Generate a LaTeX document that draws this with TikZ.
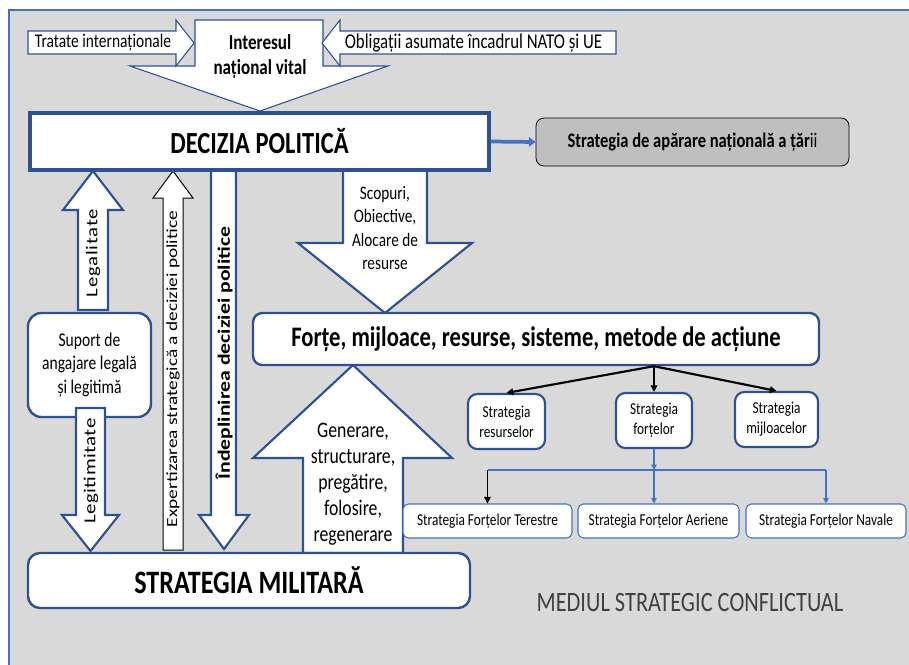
\documentclass[tikz,border=0pt]{standalone}
\usepackage{fontspec}
\usepackage{graphicx}
\setmainfont{Carlito}[FakeStretch=0.8]
\newfontfamily\vfont{Carlito}
\usetikzlibrary{arrows.meta}
\definecolor{bgg}{HTML}{D9D9D9}
\definecolor{bdr}{HTML}{2F528F}
\definecolor{bblue}{HTML}{4472C4}
\definecolor{boxg}{HTML}{BFBFBF}
\definecolor{txtg}{HTML}{404040}
\newcommand\fs[2]{\fontsize{#1pt}{#2pt}\selectfont}
\newcommand\px[1]{#1*0.75pt}
\begin{document}
\begin{tikzpicture}[x=0.75pt,y=-0.75pt,
  blockarr/.style={draw=bdr,line width=1.6pt,fill=white},
  thinarr/.style={draw=bdr,line width=0.8pt,fill=white},
  lbl/.style={inner sep=0pt,align=center},
  rbox/.style={draw=bdr,line width=1.8pt,fill=white,rounded corners=7pt,inner sep=0pt,align=center},
  sbox/.style={draw=bblue,line width=0.8pt,fill=white,rounded corners=4pt,inner sep=0pt,align=center},
  blk/.style={black,line width=1.6pt,-{Triangle[length=5pt,width=5pt]}},
  bcon/.style={bblue,line width=1.1pt},
  barr/.style={bcon,-{Triangle[length=4pt,width=4pt]}}
]
\useasboundingbox (0,0) rectangle (909,664);
\fill[bgg] (9,10) rectangle (930,690);
\draw[bblue,line width=0.8pt] (9,690) -- (9,10) -- (930,10);

% top arrows
\draw[thinarr] (195,20) -- (323,20) -- (323,66) -- (388,66) -- (260,111) -- (130,66) -- (195,66) -- cycle;
\node[lbl,font=\fs{16}{18.75}\bfseries] (inter) at (260,56) {Interesul\\național vital};
\draw[thinarr] (28,31) -- (176,31) -- (176,20) -- (194,43) -- (176,66) -- (176,54) -- (28,54) -- cycle;
\node[lbl,font=\fs{14.5}{17}] (trat) at (103,43) {Tratate internaționale};
\draw[thinarr] (616,31) -- (340,31) -- (340,20) -- (322,43) -- (340,66) -- (340,54) -- (616,54) -- cycle;
\node[lbl,font=\fs{15.8}{18}] (oblig) at (473.5,43) {Obligații asumate încadrul NATO și UE};

% arrows below DECIZIA
\draw[blockarr] (343,170) -- (427,170) -- (427,243) -- (472,243) -- (385,313) -- (298,243) -- (343,243) -- cycle;
\node[lbl,font=\fs{14.3}{17.6}] (scop) at (385,228) {Scopuri,\\Obiective,\\Alocare de\\resurse};

\draw[blockarr] (78,310) -- (78,210) -- (63,210) -- (93,171) -- (123,210) -- (108,210) -- (108,310) -- cycle;
\node[lbl,rotate=90] (tlegal) at (93,253) {\scalebox{1}[0.8]{\vfont\fs{15.5}{18}\addfontfeature{LetterSpace=4}Legalitate}};

\node[rbox,rounded corners=10pt,minimum width=\px{123},minimum height=\px{104},font=\fs{14.6}{17.6}] (sup) at (89.5,365) {Suport de\\angajare legală\\și legitimă};

\draw[blockarr] (76,408) -- (105,408) -- (105,515) -- (119,515) -- (90.5,551) -- (62,515) -- (76,515) -- cycle;
\node[lbl,rotate=90] (tlegit) at (91,471) {\scalebox{1}[0.8]{\vfont\fs{15.75}{18}\addfontfeature{LetterSpace=2}Legitimitate}};

\draw[black,line width=0.75pt,fill=white] (163,550) -- (163,198) -- (153,198) -- (173,171) -- (193,198) -- (183,198) -- (183,550) -- cycle;
\node[lbl,rotate=90] (texp) at (173,369) {\scalebox{1}[0.8]{\vfont\fs{14.5}{17}Expertizarea strategică a deciziei politice}};

\draw[blockarr] (211,170) -- (236,170) -- (236,515) -- (249,515) -- (224,549) -- (199,515) -- (211,515) -- cycle;
\node[lbl,rotate=90] (tind) at (224,353) {\scalebox{1}[0.8]{\vfont\fs{16.3}{18}\bfseries Îndeplinirea deciziei politice}};

\draw[blockarr] (303,553) -- (303,458) -- (253,458) -- (353,365) -- (452,458) -- (403,458) -- (403,553) -- cycle;
\node[lbl,font=\fs{16.6}{19.5}] (gen) at (353,484) {Generare,\\structurare,\\pregătire,\\folosire,\\regenerare};

% main boxes
\node[draw=bdr,line width=2.8pt,fill=white,minimum width=\px{459},minimum height=\px{57},inner sep=0pt,font=\fs{23}{27}\bfseries] (dec) at (259.5,141.5) {DECIZIA POLITICĂ};
\node[draw=black,line width=0.6pt,fill=boxg,rounded corners=6pt,minimum width=\px{313},minimum height=\px{48},inner sep=0pt,font=\fs{15.5}{18}] (sap) at (692.5,142) {\textbf{Strategia de apărare națională a țăr}ii};
\draw[bblue,line width=2.8pt,-{Triangle[length=5pt,width=7pt]}] (dec.east) -- (sap.west);

\node[rbox,minimum width=\px{566},minimum height=\px{52},font=\fs{21.2}{25}\bfseries] (forte) at (536,339) {Forțe, mijloace, resurse, sisteme, metode de acțiune};

\node[rbox,rounded corners=9pt,minimum width=\px{442},minimum height=\px{55},font=\fs{24.5}{28}\bfseries] (mil) at (249,580.5) {STRATEGIA MILITARĂ};

\node[lbl,text=txtg,font=\fs{21}{25}] (med) at (690,603) {MEDIUL STRATEGIC CONFLICTUAL};

% strategy tree
\node[rbox,line width=1.6pt,minimum width=\px{77},minimum height=\px{55},font=\fs{12.5}{15}] (res) at (506.5,421.5) {Strategia\\resurselor};
\node[rbox,line width=1.6pt,minimum width=\px{76},minimum height=\px{55},font=\fs{12.5}{15}] (forts) at (654,420.5) {Strategia\\forțelor};
\node[rbox,line width=1.6pt,minimum width=\px{83},minimum height=\px{55},font=\fs{12.5}{15}] (mij) at (776.5,419.5) {Strategia\\mijloacelor};

\draw[blk] (forts.north |- forte.south) -- (res.north);
\draw[blk] (forts.north |- forte.south) -- (forts.north);
\draw[blk] (forts.north |- forte.south) -- (mij.north);

\node[sbox,minimum width=\px{169},minimum height=\px{34},font=\fs{12.5}{15}] (ter) at (487.5,521) {Strategia Forțelor Terestre};
\node[sbox,minimum width=\px{161},minimum height=\px{34},font=\fs{12.5}{15}] (aer) at (658.5,521) {Strategia Forțelor Aeriene};
\node[sbox,minimum width=\px{160},minimum height=\px{34},font=\fs{12.5}{15}] (nav) at (826,521) {Strategia Forțelor Navale};

\coordinate (busM) at (654,470);
\draw[barr] (forts.south) -- (busM);
\draw[bcon] (ter.north |- busM) -- (nav.north |- busM);
\draw[black,line width=1.3pt,-{Triangle[length=5pt,width=5pt]}] (ter.north |- busM) -- (ter.north);
\draw[barr] (busM) -- (busM |- aer.north);
\draw[barr] (nav.north |- busM) -- (nav.north);
\end{tikzpicture}
\end{document}
